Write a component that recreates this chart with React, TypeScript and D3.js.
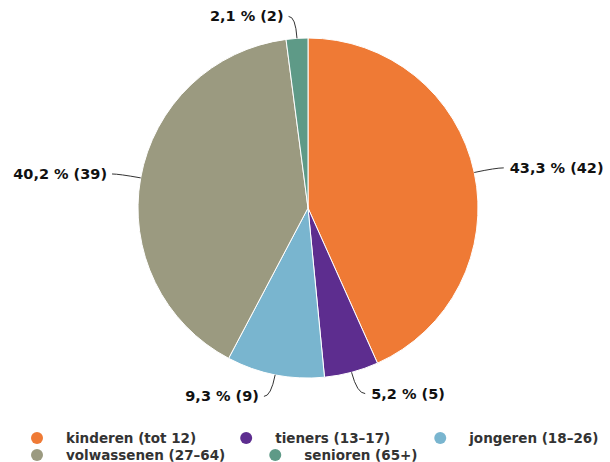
import React, { useEffect, useRef } from "react";
import * as d3 from "d3";

const categories = ["kinderen (tot 12)", "tieners (13–17)", "jongeren (18–26)", "volwassenen (27–64)", "senioren (65+)"];
const values = [42, 5, 9, 39, 2];
const percentLabels = ["43,3 % (42)", "5,2 % (5)", "9,3 % (9)", "40,2 % (39)", "2,1 % (2)"];
const colors = ["#ef7a35", "#5d2d8f", "#79b5cf", "#9b9a80", "#5e9a87"];

const W = 610;
const H = 462;
const CX = 308;
const CY = 208;
const R = 170;

export default function App() {
  const ref = useRef<SVGSVGElement | null>(null);

  useEffect(() => {
    const svg = d3.select(ref.current);
    svg.selectAll("*").remove();

    const data = categories.map((c, i) => ({ name: c, value: values[i], label: percentLabels[i], color: colors[i] }));
    const pie = d3.pie<any>().sort(null).value((d: any) => d.value);
    const arcs = pie(data);
    const arc = d3.arc<any>().innerRadius(0).outerRadius(R);

    const g = svg.append("g").attr("transform", `translate(${CX},${CY})`);
    g.selectAll("path.slice")
      .data(arcs)
      .enter()
      .append("path")
      .attr("class", "slice")
      .attr("d", arc as any)
      .attr("fill", (d: any) => d.data.color)
      .attr("stroke", "#ffffff")
      .attr("stroke-width", 1)
      .attr("stroke-linejoin", "round");

    // labels and connectors
    arcs.forEach((a: any) => {
      const mid = (a.startAngle + a.endAngle) / 2;
      const sx = Math.sin(mid);
      const sy = -Math.cos(mid);
      const px = sx * R;
      const py = sy * R;
      const ax = sx * (R + 22);
      const ay = sy * (R + 22);
      const right = sx >= 0;
      const ex = ax + (right ? 8 : -7);
      const ey = ay;
      g.append("path")
        .attr("d", `M${px},${py} Q${ax},${ay} ${ex},${ey}`)
        .attr("fill", "none")
        .attr("stroke", "#333333")
        .attr("stroke-width", 1);
      g.append("text")
        .attr("x", ex + (right ? 6 : -5))
        .attr("y", ey)
        .attr("dy", "0.35em")
        .attr("text-anchor", right ? "start" : "end")
        .attr("font-family", "DejaVu Sans, Verdana, sans-serif")
        .attr("font-weight", "bold")
        .attr("font-size", 14.5)
        .attr("fill", "#111111")
        .text(a.data.label);
    });

    // legend
    const lg = svg.append("g");
    let x = 37;
    let row = 0;
    const rowY = [438, 455];
    data.forEach((d) => {
      const item = lg.append("g");
      const t = item
        .append("text")
        .attr("x", 29)
        .attr("y", 0)
        .attr("dy", "0.35em")
        .attr("font-family", "DejaVu Sans, Verdana, sans-serif")
        .attr("font-weight", "bold")
        .attr("font-size", 13.5)
        .attr("fill", "#333333")
        .text(d.name);
      const w = (t.node() as SVGTextElement).getComputedTextLength();
      if (x + 29 + w > W - 5) {
        row += 1;
        x = 37;
      }
      item
        .append("circle")
        .attr("cx", 0)
        .attr("cy", 0)
        .attr("r", 6)
        .attr("fill", d.color);
      item.attr("transform", `translate(${x},${rowY[row]})`);
      x = x + 29 + w + 50;
    });
  }, []);

  return (
    <svg
      ref={ref}
      width={W}
      height={H}
      style={{ position: "absolute", left: 0, top: 0, background: "#ffffff" }}
    />
  );
}
